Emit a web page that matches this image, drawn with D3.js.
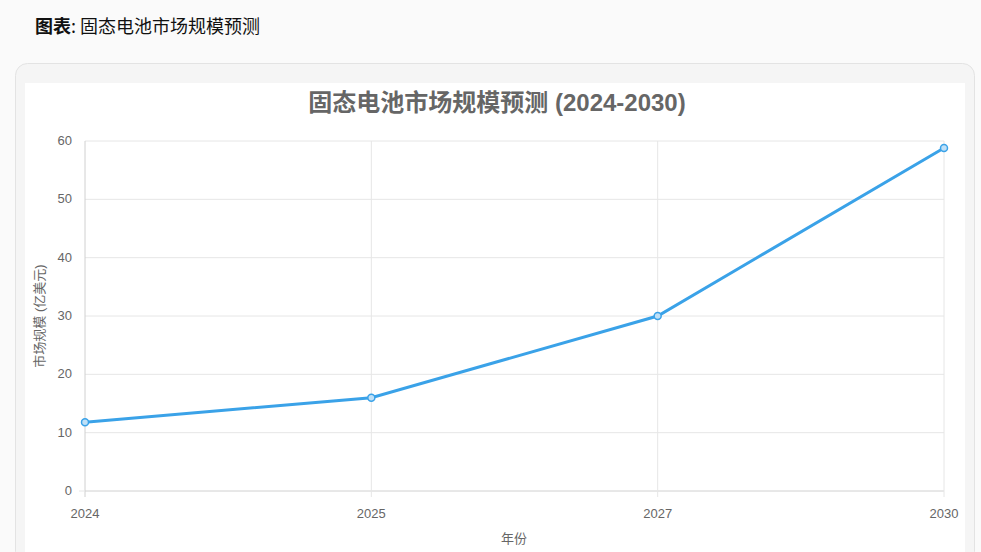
<!DOCTYPE html>
<html><head><meta charset="utf-8">
<script src="https://cdn.jsdelivr.net/npm/d3@7"></script>
<style>
body{margin:0;background:#fafafa;font-family:"Noto Sans CJK SC","Open Sans",sans-serif;}
</style></head>
<body><svg id="c" width="981" height="552"></svg>
<script>
const years = ["2024", "2025", "2027", "2030"];
const marketSize = [11.8, 16, 30, 58.8];
const yTicks = [0, 10, 20, 30, 40, 50, 60];

const svg = d3.select("#c");
const font = "Helvetica, Arial, 'Noto Sans CJK SC', sans-serif";

// page heading
const head = svg.append("text").attr("x", 35).attr("y", 33)
  .attr("font-size", 18).attr("fill", "#111").attr("font-family", "'Noto Sans CJK SC'");
head.append("tspan").attr("font-weight", "bold").text("图表");
head.append("tspan").text(": 固态电池市场规模预测");

// card
svg.append("rect").attr("x", 15.5).attr("y", 63.5).attr("width", 959).attr("height", 500)
  .attr("rx", 12).attr("fill", "#f5f5f5").attr("stroke", "#e3e3e3");
svg.append("rect").attr("x", 25).attr("y", 83).attr("width", 940).attr("height", 480).attr("fill", "#fff");

var x = d3.scalePoint().domain(years).range([85, 944]);
var y = d3.scaleLinear().domain([0, 60]).range([491, 141]);

// grid
svg.append("g").selectAll("line").data(yTicks).enter().append("line")
  .attr("x1", 85).attr("x2", 944).attr("y1", d => y(d)).attr("y2", d => y(d))
  .attr("stroke", d => d === 0 ? "#d0d0d0" : "#e6e6e6");
svg.append("g").selectAll("line").data(years).enter().append("line")
  .attr("y1", 141).attr("y2", 497).attr("x1", d => x(d)).attr("x2", d => x(d))
  .attr("stroke", (d, i) => i === 0 ? "#d0d0d0" : "#e6e6e6");
svg.append("line").attr("x1", 79).attr("x2", 85).attr("y1", y(0)).attr("y2", y(0)).attr("stroke", "#e6e6e6");

// tick labels
svg.append("g").selectAll("text").data(yTicks).enter().append("text")
  .attr("x", 72).attr("y", d => y(d) + 4).attr("text-anchor", "end")
  .attr("font-size", 13).attr("fill", "#666").attr("font-family", font).text(d => d);
svg.append("g").selectAll("text").data(years).enter().append("text")
  .attr("x", d => x(d)).attr("y", 518).attr("text-anchor", "middle")
  .attr("font-size", 13).attr("fill", "#666").attr("font-family", font).text(d => d);

// axis titles
svg.append("text").attr("transform", "translate(44,316) rotate(-90)").attr("text-anchor", "middle")
  .attr("font-size", 13).attr("fill", "#666").attr("font-family", font).text("市场规模 (亿美元)");
svg.append("text").attr("x", 514).attr("y", 543).attr("text-anchor", "middle")
  .attr("font-size", 13).attr("fill", "#666").attr("font-family", font).text("年份");

// title
svg.append("text").attr("x", 497).attr("y", 111).attr("text-anchor", "middle")
  .attr("font-size", 24).attr("font-weight", "bold").attr("fill", "#666").attr("font-family", font)
  .text("固态电池市场规模预测 (2024-2030)");

// line
const data = years.map((d, i) => ({ year: d, value: marketSize[i] }));
svg.append("path").datum(data)
  .attr("d", d3.line().x(d => x(d.year)).y(d => y(d.value)))
  .attr("fill", "none").attr("stroke", "#3aa2e8").attr("stroke-width", 3);
svg.append("g").selectAll("circle").data(data).enter().append("circle")
  .attr("cx", d => x(d.year)).attr("cy", d => y(d.value)).attr("r", 3.5)
  .attr("fill", "#bfe0f7").attr("stroke", "#3aa2e8").attr("stroke-width", 1.5);
</script></body></html>
